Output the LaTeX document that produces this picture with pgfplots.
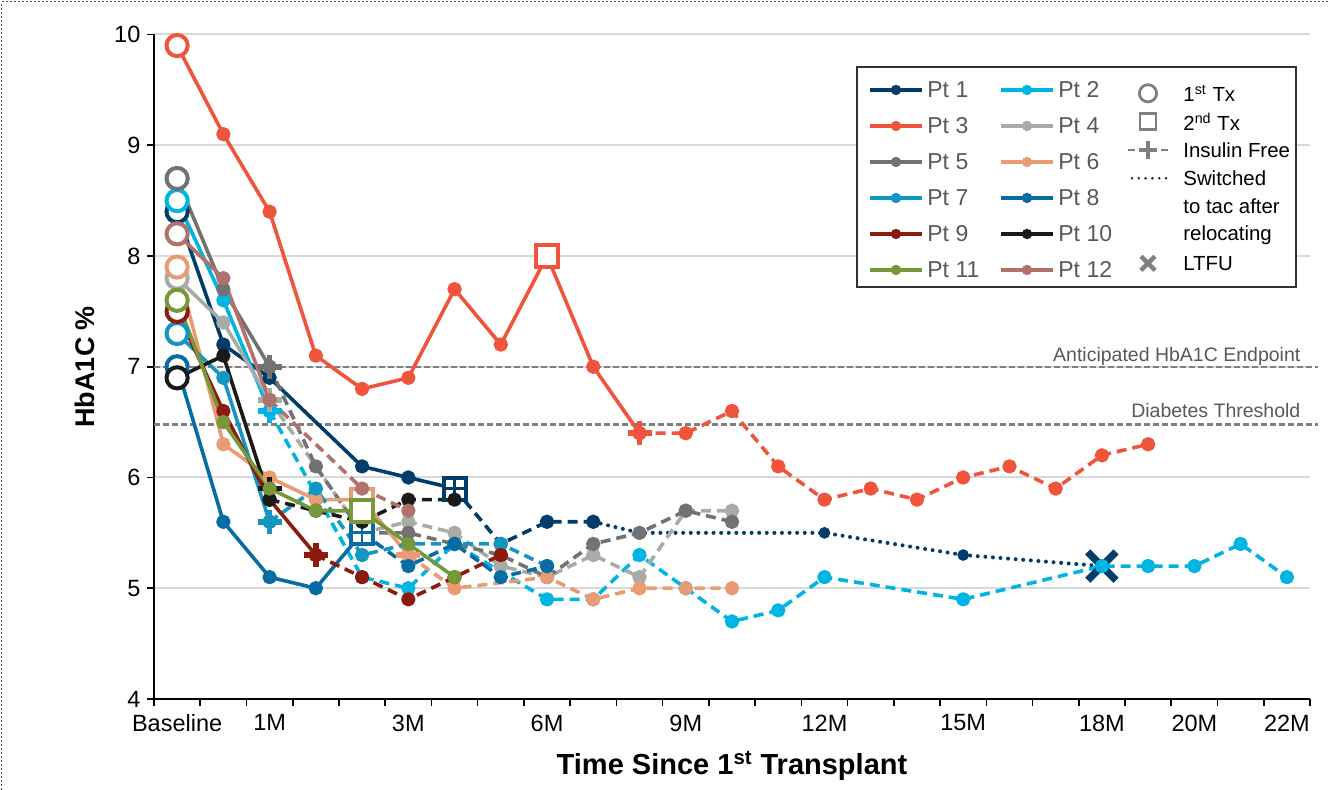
\documentclass[border=0pt]{standalone}
\usepackage{fontspec}
\setmainfont{Liberation Sans}
\usepackage{pgfplots}
\pgfplotsset{compat=1.18}

\definecolor{pt1}{HTML}{003D6B}
\definecolor{pt2}{HTML}{00B4E4}
\definecolor{pt3}{HTML}{F0543C}
\definecolor{pt4}{HTML}{A8ACA6}
\definecolor{pt5}{HTML}{737171}
\definecolor{pt6}{HTML}{E99C74}
\definecolor{pt7}{HTML}{1496C3}
\definecolor{pt8}{HTML}{086CA4}
\definecolor{pt9}{HTML}{8C1A0E}
\definecolor{pt10}{HTML}{1A1A1A}
\definecolor{pt11}{HTML}{76983A}
\definecolor{pt12}{HTML}{B0726A}
\definecolor{txtgray}{HTML}{595959}
\definecolor{symgray}{HTML}{7F7F7F}
\definecolor{refgray}{HTML}{808080}
\definecolor{gridgray}{HTML}{D9D9D9}

\pgfplotsset{
  seg/.style={line width=1.8pt, line join=round, mark=*, mark size=2.7pt, mark options={solid}},
  dsh/.style={seg, dash pattern=on 5pt off 3pt},
  dts/.style={line width=2pt, line cap=round, dash pattern=on 0pt off 3.8pt, no marks},
  dotm/.style={only marks, mark=*, mark size=2.7pt},
  circ/.style={only marks, mark=*, mark size=5.3pt, mark options={solid, fill=white, line width=2pt}},
  sq/.style={only marks, mark=square*, mark size=5.5pt, mark options={solid, fill=white, line width=2pt}},
  plusm/.style={only marks, mark=+, mark size=6pt, mark options={solid, line width=2.8pt}},
  plusin/.style={only marks, mark=+, mark size=5pt, mark options={solid, line width=1.4pt}},
  xm/.style={only marks, mark=x, mark size=10pt, mark options={solid, line width=3.6pt}},
}

\begin{document}
\begin{tikzpicture}
\useasboundingbox (-77pt,-45.5pt) rectangle (588pt,349.5pt);
% frame of the chart area
\draw[black!70, line width=0.5pt, dash pattern=on 1pt off 1pt] (-76pt,-45.5pt) -- (-76pt,348.5pt) -- (588pt,348.5pt);

\begin{axis}[
  at={(0,0)}, anchor=south west,
  scale only axis, width=578pt, height=332.25pt,
  xmin=-0.5, xmax=24.5, ymin=4, ymax=10,
  clip=false,
  axis x line*=bottom, axis y line*=left,
  axis line style={line width=1.1pt, black, -},
  tick align=outside,
  xtick={0,2,5,8,11,14,17,20,22,24},
  xticklabels={Baseline,1M,3M,6M,9M,12M,15M,18M,20M,22M},
  major x tick style={draw=none},
  minor xtick={-0.5,0.5,...,24.5},
  minor tick length=3.3pt,
  minor x tick style={black, line width=0.8pt},
  ytick={4,5,...,10},
  major tick length=3.3pt,
  major y tick style={black, line width=0.8pt},
  ymajorgrids, grid style={gridgray, line width=1pt},
  ticklabel style={font=\fontsize{11.75}{14}\selectfont, black},
  /pgf/number format/assume math mode=true,
  xticklabel style={yshift=-1pt},
  ylabel={HbA1C \%},
  ylabel style={font=\bfseries\fontsize{13.5}{16}\selectfont, at={(axis description cs:-0.0597,0.5)}, anchor=center},
  xlabel={Time Since 1\textsuperscript{st} Transplant},
  xlabel style={font=\bfseries\fontsize{14.5}{17}\selectfont, at={(axis description cs:0.5,-0.1008)}, anchor=center},
]

% reference levels
\addplot[refgray, line width=1.2pt, dash pattern=on 3pt off 1.5pt] coordinates {(-0.5,7) (24.67,7)};
\addplot[refgray, line width=1.2pt, dash pattern=on 3pt off 1.5pt] coordinates {(-0.5,6.48) (24.67,6.48)};
\node[anchor=base east, text=txtgray, font=\fontsize{9.75}{12}\selectfont, inner sep=0pt] at (axis cs:24.3,7.05) {Anticipated HbA1C Endpoint};
\node[anchor=base east, text=txtgray, font=\fontsize{9.75}{12}\selectfont, inner sep=0pt] at (axis cs:24.3,6.54) {Diabetes Threshold};

% Pt 1
\addplot[pt1, seg] coordinates {(0,8.4) (1,7.2) (2,6.9) (4,6.1) (5,6.0) (6,5.9)};
\addplot[pt1, dsh] coordinates {(6,5.9) (7,5.4) (8,5.6) (9,5.6)};
\addplot[pt1, dts] coordinates {(9,5.6) (10,5.5) (14,5.5) (17,5.3) (20,5.2)};
\addplot[pt1, dotm] coordinates {(10,5.5) (14,5.5) (17,5.3)};
\addplot[pt1, sq] coordinates {(6,5.9)};
\addplot[pt1, plusin] coordinates {(6,5.9)};
\addplot[pt1, xm] coordinates {(20,5.2)};

% Pt 2
\addplot[pt2, seg] coordinates {(0,8.5) (1,7.6) (2,6.6)};
\addplot[pt2, dsh] coordinates {(2,6.6) (4,5.1) (5,5.0) (6,5.4) (8,4.9) (9,4.9) (10,5.3) (11,5.0) (12,4.7) (13,4.8) (14,5.1) (17,4.9) (20,5.2) (21,5.2) (22,5.2) (23,5.4) (24,5.1)};
\addplot[pt2, plusm] coordinates {(2,6.6)};

% Pt 3
\addplot[pt3, seg] coordinates {(0,9.9) (1,9.1) (2,8.4) (3,7.1) (4,6.8) (5,6.9) (6,7.7) (7,7.2) (8,8.0) (9,7.0) (10,6.4)};
\addplot[pt3, dsh] coordinates {(10,6.4) (11,6.4) (12,6.6) (13,6.1) (14,5.8) (15,5.9) (16,5.8) (17,6.0) (18,6.1) (19,5.9) (20,6.2) (21,6.3)};
\addplot[pt3, sq] coordinates {(8,8.0)};
\addplot[pt3, plusm] coordinates {(10,6.4)};

% Pt 4
\addplot[pt4, seg] coordinates {(0,7.8) (1,7.4) (2,6.7)};
\addplot[pt4, dsh] coordinates {(2,6.7) (4,5.5) (5,5.6) (6,5.5) (7,5.2) (8,5.1) (9,5.3) (10,5.1) (11,5.7) (12,5.7)};
\addplot[pt4, plusm] coordinates {(2,6.7)};

% Pt 5
\addplot[pt5, seg] coordinates {(0,8.7) (1,7.7) (2,7.0)};
\addplot[pt5, dsh] coordinates {(2,7.0) (3,6.1) (4,5.5) (5,5.5) (6,5.4) (7,5.3) (8,5.1) (9,5.4) (10,5.5) (11,5.7) (12,5.6)};
\addplot[pt5, plusm] coordinates {(2,7.0)};

% Pt 6
\addplot[pt6, seg] coordinates {(0,7.9) (1,6.3) (2,6.0) (3,5.8) (4,5.8) (5,5.3)};
\addplot[pt6, dsh] coordinates {(5,5.3) (6,5.0) (8,5.1) (9,4.9) (10,5.0) (11,5.0) (12,5.0)};
\addplot[pt6, sq] coordinates {(4,5.8)};
\addplot[pt6, plusm] coordinates {(5,5.3)};

% Pt 7
\addplot[pt7, seg] coordinates {(0,7.3) (1,6.9) (2,5.6)};
\addplot[pt7, dsh] coordinates {(2,5.6) (3,5.9) (4,5.3) (5,5.4) (6,5.4) (7,5.4) (8,5.2)};
\addplot[pt7, plusm] coordinates {(2,5.6)};

% Pt 8
\addplot[pt8, seg] coordinates {(0,7.0) (1,5.6) (2,5.1) (3,5.0) (4,5.5)};
\addplot[pt8, dsh] coordinates {(4,5.5) (5,5.2) (6,5.4) (7,5.1) (8,5.2)};
\addplot[pt8, sq] coordinates {(4,5.5)};
\addplot[pt8, plusin] coordinates {(4,5.5)};

% Pt 9
\addplot[pt9, seg] coordinates {(0,7.5) (1,6.6) (2,5.8) (3,5.3)};
\addplot[pt9, dsh] coordinates {(3,5.3) (4,5.1) (5,4.9) (6,5.1) (7,5.3)};
\addplot[pt9, plusm] coordinates {(3,5.3)};

% Pt 10
\addplot[pt10, seg] coordinates {(0,6.9) (1,7.1) (2,5.8)};
\addplot[pt10, dsh] coordinates {(2,5.8) (3,5.7) (4,5.6) (5,5.8) (6,5.8)};
\addplot[pt10, plusm] coordinates {(2,5.9)};

% Pt 11
\addplot[pt11, seg] coordinates {(0,7.6) (1,6.5) (2,5.9) (3,5.7) (4,5.7) (5,5.4) (6,5.1)};
\addplot[pt11, sq] coordinates {(4,5.7)};

% Pt 12
\addplot[pt12, seg] coordinates {(0,8.2) (1,7.8) (2,6.7)};
\addplot[pt12, dsh] coordinates {(2,6.7) (4,5.9) (5,5.7)};

% first transplant (baseline)
\addplot[pt1, circ] coordinates {(0,8.4)};
\addplot[pt2, circ] coordinates {(0,8.5)};
\addplot[pt3, circ] coordinates {(0,9.9)};
\addplot[pt4, circ] coordinates {(0,7.8)};
\addplot[pt5, circ] coordinates {(0,8.7)};
\addplot[pt6, circ] coordinates {(0,7.9)};
\addplot[pt7, circ] coordinates {(0,7.3)};
\addplot[pt8, circ] coordinates {(0,7.0)};
\addplot[pt9, circ] coordinates {(0,7.5)};
\addplot[pt10, circ] coordinates {(0,6.9)};
\addplot[pt11, circ] coordinates {(0,7.6)};
\addplot[pt12, circ] coordinates {(0,8.2)};
\end{axis}

% legend
\draw[black!80, line width=0.7pt, fill=white] (351.5pt,206pt) rectangle (571pt,316pt);
\foreach \c/\lab/\px/\py in {pt1/Pt 1/358/304.5, pt2/Pt 2/423.5/304.5,
    pt3/Pt 3/358/286.5, pt4/Pt 4/423.5/286.5,
    pt5/Pt 5/358/268.5, pt6/Pt 6/423.5/268.5,
    pt7/Pt 7/358/250.5, pt8/Pt 8/423.5/250.5,
    pt9/Pt 9/358/232.5, pt10/Pt 10/423.5/232.5,
    pt11/Pt 11/358/214.5, pt12/Pt 12/423.5/214.5} {
  \draw[\c, line width=1.8pt] (\px pt,\py pt) -- ++(26pt,0pt);
  \fill[\c] (\px pt+13pt,\py pt) circle (2.6pt);
  \node[anchor=west, inner sep=0pt, text=txtgray, font=\fontsize{11.5}{13}\selectfont] at (\px pt+28.5pt,\py pt) {\lab};
}
\draw[symgray, line width=1.4pt] (497pt,302.85pt) circle (4.3pt);
\draw[symgray, line width=1.4pt] (493pt,284.65pt) rectangle (501pt,292.65pt);
\draw[symgray, line width=1.4pt] (487pt,274.5pt) -- (490.5pt,274.5pt) (503.5pt,274.5pt) -- (507pt,274.5pt);
\draw[symgray, line width=2.2pt] (492.5pt,274.5pt) -- (501.5pt,274.5pt) (497pt,270pt) -- (497pt,279pt);
\draw[pt1!70!black, line width=1.4pt, line cap=round, dash pattern=on 0pt off 3.4pt] (489pt,260.35pt) -- (507pt,260.35pt);
\draw[symgray, line width=2.2pt] (493.5pt,214.35pt) -- (500.5pt,221.35pt) (493.5pt,221.35pt) -- (500.5pt,214.35pt);
\begin{scope}[every node/.style={anchor=west, inner sep=0pt, font=\fontsize{10.2}{12}\selectfont}]
\node at (514.5pt,302.85pt) {1\textsuperscript{st} Tx};
\node at (514.5pt,288.65pt) {2\textsuperscript{nd} Tx};
\node at (514.5pt,274.5pt) {Insulin Free};
\node at (514.5pt,260.35pt) {Switched};
\node at (514.5pt,246.15pt) {to tac after};
\node at (514.5pt,232pt) {relocating};
\node at (514.5pt,217.85pt) {LTFU};
\end{scope}
\end{tikzpicture}
\end{document}
